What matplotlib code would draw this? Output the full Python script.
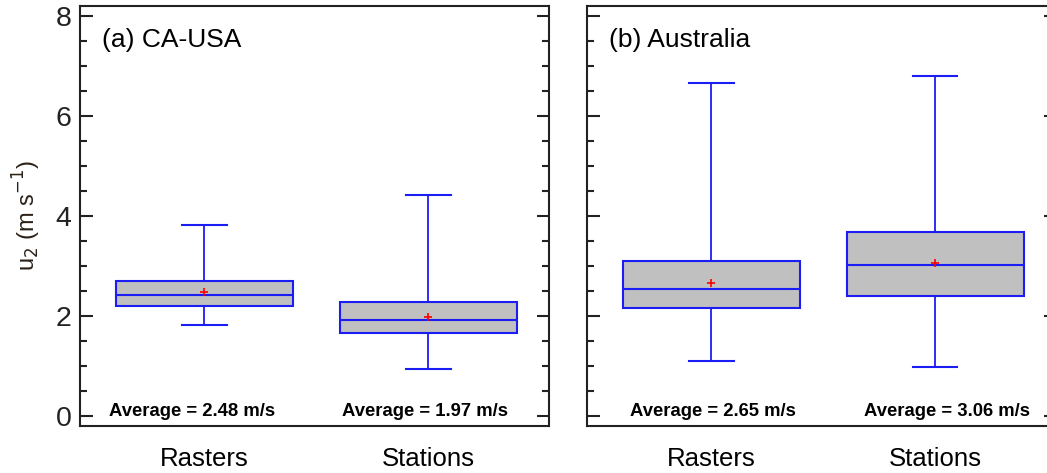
import matplotlib
matplotlib.use("Agg")
import matplotlib.pyplot as plt
from matplotlib.ticker import MultipleLocator

plt.rcParams['font.family'] = ['Liberation Sans', 'DejaVu Sans']

# box statistics (m/s)
groups = ['Rasters', 'Stations']
panels = ['(a) CA-USA', '(b) Australia']

usa_whislo = [1.82, 0.93]
usa_q1 = [2.20, 1.65]
usa_med = [2.42, 1.92]
usa_q3 = [2.70, 2.28]
usa_whishi = [3.81, 4.42]
usa_mean = [2.48, 1.97]

aus_whislo = [1.10, 0.98]
aus_q1 = [2.15, 2.40]
aus_med = [2.53, 3.01]
aus_q3 = [3.09, 3.68]
aus_whishi = [6.67, 6.81]
aus_mean = [2.65, 3.06]

blue = '#1c1cf5'

def make_stats(lo, q1, med, q3, hi, mean):
    out = []
    for i in range(len(groups)):
        out.append({'whislo': lo[i], 'q1': q1[i], 'med': med[i], 'q3': q3[i],
                    'whishi': hi[i], 'mean': mean[i], 'fliers': [], 'label': groups[i]})
    return out

fig = plt.figure(figsize=(10.47, 4.73), dpi=100)
ax1 = fig.add_axes([0.0764, 0.0994, 0.448, 0.888])
ax2 = fig.add_axes([0.5606, 0.0994, 0.448, 0.888])

data = [
    make_stats(usa_whislo, usa_q1, usa_med, usa_q3, usa_whishi, usa_mean),
    make_stats(aus_whislo, aus_q1, aus_med, aus_q3, aus_whishi, aus_mean),
]
means = [usa_mean, aus_mean]
# the "Average" labels are not exactly centred under the boxes
label_shift = [[-0.055, -0.013], [0.009, 0.054]]

for ax, stats, title, mn, shift in zip([ax1, ax2], data, panels, means, label_shift):
    ax.bxp(stats, positions=[1, 2], widths=0.79, capwidths=0.2,
           showmeans=True, patch_artist=True,
           boxprops=dict(facecolor='#c0c0c0', edgecolor=blue, linewidth=1.5),
           medianprops=dict(color=blue, linewidth=1.5),
           whiskerprops=dict(color=blue, linewidth=1.3),
           capprops=dict(color=blue, linewidth=1.5),
           meanprops=dict(marker='+', markeredgecolor='red', markersize=6, markeredgewidth=1.2))
    ax.set_xlim(0.445, 2.54)
    ax.set_ylim(-0.21, 8.21)
    ax.yaxis.set_major_locator(MultipleLocator(2))
    ax.yaxis.set_minor_locator(MultipleLocator(0.5))
    ax.tick_params(axis='y', which='both', direction='in', left=True, right=True, width=1.5, colors='#222222')
    ax.tick_params(axis='y', which='major', length=9, labelsize=20.5, pad=6)
    ax.tick_params(axis='y', which='minor', length=5)
    ax.tick_params(axis='x', length=0, labelsize=18.5, pad=15)
    for s in ax.spines.values():
        s.set_linewidth(1.5)
        s.set_color('#222222')
    ax.text(0.046, 0.902, title, transform=ax.transAxes, fontsize=19, va='baseline', ha='left')
    for i, m in enumerate(mn):
        ax.text(i + 1 + shift[i], 0.0, f'Average = {m:.2f} m/s', ha='center', va='baseline',
                fontsize=13.3, fontweight='bold', family=['Liberation Sans Narrow', 'Liberation Sans'])

ax2.tick_params(axis='y', labelleft=False)
ax1.set_ylabel('u$_2$ (m s$^{-1}$)', fontsize=17, color='#2b2118', labelpad=9)

fig.savefig('out.png', dpi=100)
